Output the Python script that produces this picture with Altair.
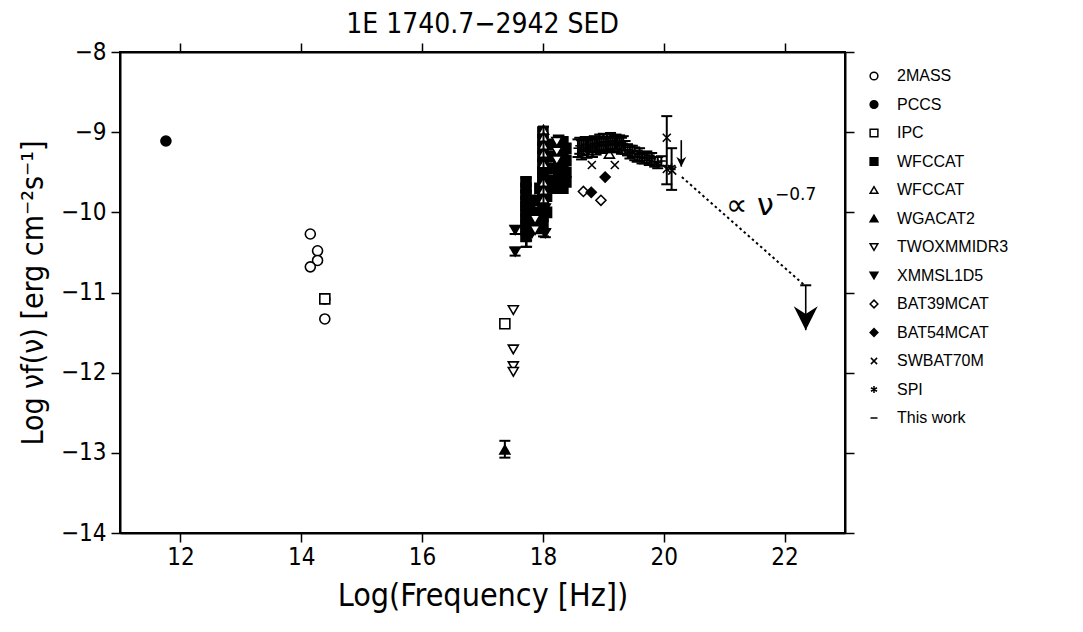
import altair as alt
import pandas as pd

# ---------------- data ----------------
mass_x = [14.15, 14.27, 14.27, 14.15, 14.39, 14.39]
mass_y = [-10.27, -10.48, -10.60, -10.68, -11.08, -11.33]
pccs_x = [11.76]
pccs_y = [-9.11]
ipc_x = [14.39, 17.37]
ipc_y = [-11.08, -11.39]
wfcsq_x = [17.72, 17.72, 17.72, 17.72, 17.72, 17.72, 17.72, 17.72, 17.72, 17.72,
           17.78, 17.78, 17.78, 17.78,
           17.95, 17.95, 17.95, 17.95, 17.95,
           18.00, 18.00, 18.00, 18.00, 18.00, 18.00, 18.00, 18.00, 18.00, 18.00, 18.00, 18.00, 18.00,
           18.06, 18.06, 18.06, 18.06, 18.06,
           18.18, 18.18, 18.18, 18.18, 18.18,
           18.26, 18.26, 18.26, 18.26, 18.26,
           18.33, 18.33, 18.33, 18.33, 18.33,
           18.38, 18.38, 18.38, 18.38]
wfcsq_y = [-9.62, -9.70, -9.78, -9.86, -9.93, -10.00, -10.08, -10.15, -10.22, -10.30,
           -9.85, -9.95, -10.05, -10.12,
           -9.70, -9.85, -10.00, -10.10, -10.20,
           -9.00, -9.10, -9.20, -9.30, -9.40, -9.50, -9.55, -9.65, -9.75, -9.85, -9.95, -10.05, -10.15,
           -9.30, -9.45, -9.60, -9.80, -10.00,
           -9.15, -9.30, -9.45, -9.60, -9.70,
           -9.10, -9.20, -9.35, -9.50, -9.65,
           -9.12, -9.25, -9.40, -9.55, -9.70,
           -9.20, -9.35, -9.50, -9.62]
xmm_x = [17.54, 17.54, 17.75, 17.82, 18.04, 18.04]
xmm_y = [-10.22, -10.49, -10.22, -10.26, -10.26, -9.95]
wfctri_x = [18.01, 18.01, 18.01, 18.01, 18.01, 18.01, 18.01, 18.01, 19.10]
wfctri_y = [-8.97, -9.06, -9.16, -9.26, -9.39, -9.62, -9.72, -9.83, -9.27]
wga_x = [17.37]
wga_y = [-12.96]
twox_x = [17.51, 17.51, 17.51, 17.51, 18.23, 18.23, 18.23, 17.87, 17.87]
twox_y = [-11.22, -11.71, -11.92, -11.99, -9.12, -9.24, -9.35, -10.09, -10.22]
bat39_x = [18.67, 18.96]
bat39_y = [-9.74, -9.85]
bat54_x = [18.80, 19.03]
bat54_y = [-9.75, -9.56]
swbat_x = [18.81, 19.19, 20.05, 20.05, 20.14]
swbat_y = [-9.41, -9.41, -9.07, -9.46, -9.48]
spi_x = [19.90, 20.13]
spi_y = [-9.39, -9.44]
tw_x = [18.58, 18.61, 18.64, 18.67, 18.70, 18.73, 18.76, 18.79, 18.82, 18.85, 18.88,
        18.91, 18.94, 18.97, 19.00, 19.03, 19.06, 19.09, 19.12, 19.15, 19.18, 19.21,
        19.24, 19.27, 19.30, 19.33, 19.36, 19.40, 19.44, 19.48, 19.52, 19.56, 19.60,
        19.64, 19.68, 19.72, 19.76, 19.80, 19.85, 19.90, 19.96]
tw_y = [-9.20, -9.17, -9.22, -9.19, -9.15, -9.21, -9.18, -9.16, -9.20, -9.14, -9.18,
        -9.15, -9.13, -9.17, -9.12, -9.16, -9.13, -9.15, -9.11, -9.16, -9.14, -9.12,
        -9.15, -9.13, -9.17, -9.14, -9.19, -9.22, -9.25, -9.24, -9.27, -9.30, -9.28,
        -9.32, -9.33, -9.31, -9.35, -9.33, -9.37, -9.38, -9.36]
tw_err = [0.11, 0.10, 0.12, 0.10, 0.09, 0.11, 0.10, 0.09, 0.11, 0.09, 0.10,
          0.09, 0.10, 0.09, 0.10, 0.09, 0.10, 0.09, 0.10, 0.09, 0.10, 0.09,
          0.10, 0.09, 0.10, 0.09, 0.08, 0.07, 0.08, 0.07, 0.08, 0.07, 0.08,
          0.07, 0.06, 0.07, 0.06, 0.07, 0.06, 0.07, 0.06]

# other error bars (x, low, high)
eb_x = [17.37, 17.72, 17.73, 18.01, 17.54, 17.54, 18.04, 20.05, 20.13]
eb_lo = [-13.06, -10.43, -10.43, -10.30, -10.27, -10.54, -10.31, -9.65, -9.72]
eb_hi = [-12.85, -9.57, -10.35, -8.93, -10.17, -10.44, -10.21, -8.80, -9.20]

# upper limits
ul_x = [20.29, 22.35]
ul_top = [-9.10, -10.91]
ul_tip = [-9.43, -11.47]
ul_head = [-9.37, -11.32]
ul_size = [100, 576]

# power-law extrapolation
pl_x = [20.30, 22.33]
pl_y = [-9.56, -10.91]

ann_text = ["\u221d \u03bd", "\u22120.7"]
ann_x = [21.03, 21.84]
ann_y = [-10.03, -9.85]
ann_size = [30, 17]

series_names = ["2MASS", "PCCS", "IPC", "WFCCAT", "WFCCAT_2", "WGACAT2", "TWOXMMIDR3",
                "XMMSL1D5", "BAT39MCAT", "BAT54MCAT", "SWBAT70M", "SPI", "This work"]

X_PATH = "M-0.8,-0.8L0.8,0.8M-0.8,0.8L0.8,-0.8"
AST_PATH = "M0,-0.9L0,0.9M-0.78,-0.45L0.78,0.45M-0.78,0.45L0.78,-0.45"
DASH_PATH = "M-0.9,0L0.9,0"
shapes = ["circle", "circle", "square", "square", "triangle-up", "triangle-up",
          "triangle-down", "triangle-down", "diamond", "diamond", X_PATH, AST_PATH, DASH_PATH]
fills = ["white", "black", "white", "black", "white", "black", "white", "black",
         "white", "black", "black", "black", "black"]
strokes = ["black"] * len(series_names)

# ---------------- tables ----------------
rows = []
def add(name, xs, ys):
    for a, b in zip(xs, ys):
        rows.append({"series": name, "x": a, "y": b})

add("2MASS", mass_x, mass_y)
add("PCCS", pccs_x, pccs_y)
add("IPC", ipc_x, ipc_y)
add("WFCCAT", wfcsq_x, wfcsq_y)
add("XMMSL1D5", xmm_x, xmm_y)
add("WFCCAT_2", wfctri_x, wfctri_y)
add("TWOXMMIDR3", twox_x, twox_y)
add("WGACAT2", wga_x, wga_y)
add("BAT39MCAT", bat39_x, bat39_y)
add("BAT54MCAT", bat54_x, bat54_y)
add("SWBAT70M", swbat_x, swbat_y)
add("SPI", spi_x, spi_y)
add("This work", tw_x, tw_y)
pts = pd.DataFrame(rows)

eb = pd.DataFrame({"x": eb_x + tw_x,
                   "lo": eb_lo + [b - e for b, e in zip(tw_y, tw_err)],
                   "hi": eb_hi + [b + e for b, e in zip(tw_y, tw_err)]})
caps = pd.DataFrame({"x": list(eb["x"]) + list(eb["x"]) + [ul_x[1]],
                     "y": list(eb["lo"]) + list(eb["hi"]) + [ul_top[1]]})
ul = pd.DataFrame({"x": ul_x, "top": ul_top, "tip": ul_tip, "head": ul_head, "s": ul_size})
pl = pd.DataFrame({"x": pl_x, "y": pl_y})
ann = pd.DataFrame({"t": ann_text, "x": ann_x, "y": ann_y, "s": ann_size})

XS = alt.Scale(domain=[11, 23], nice=False, zero=False)
YS = alt.Scale(domain=[-14, -8], nice=False, zero=False)
NARROW = "Liberation Sans Narrow, DejaVu Sans Condensed, Liberation Sans"

ax_common = dict(tickSize=9, tickWidth=1.5, tickColor="black", domainColor="black",
                 domainWidth=2, grid=False, labelColor="black", labelFont=NARROW,
                 labelFontSize=24, titleFont=NARROW,
                 titleFontWeight="normal", titleColor="black")

def X(field="x"):
    return alt.X(f"{field}:Q", scale=XS, axis=None)

def Y(field="y"):
    return alt.Y(f"{field}:Q", scale=YS, axis=None)

legend = alt.Legend(title=None, orient="none", legendX=746, legendY=16,
                    labelFont="Liberation Sans", labelFontSize=16, labelColor="black",
                    symbolSize=60, symbolStrokeColor="black", symbolStrokeWidth=1.5,
                    labelOffset=15, rowPadding=12.5, padding=0,
                    labelExpr="replace(datum.label, '_2', '')")

points = alt.Chart(pts).mark_point(filled=True, strokeWidth=1.6,
                                   opacity=1, size=100).encode(
    x=alt.X("x:Q", scale=XS, axis=alt.Axis(values=[12, 14, 16, 18, 20, 22], orient="bottom",
                                           title="Log(Frequency [Hz])", labelPadding=3,
                                           titlePadding=11, titleFontSize=32, **ax_common)),
    y=alt.Y("y:Q", scale=YS, axis=alt.Axis(values=[-14, -13, -12, -11, -10, -9, -8], orient="left",
                                           title="Log \u03bdf(\u03bd) [erg cm\u207b\u00b2s\u207b\u00b9]",
                                           labelPadding=5, titlePadding=12, titleFontSize=30,
                                           **ax_common)),
    shape=alt.Shape("series:N", scale=alt.Scale(domain=series_names, range=shapes), legend=legend),
    fill=alt.Fill("series:N", scale=alt.Scale(domain=series_names, range=fills), legend=legend),
    stroke=alt.Stroke("series:N", scale=alt.Scale(domain=series_names, range=strokes), legend=legend),
)

frame = alt.Chart(pl).mark_rule(opacity=0).encode(
    x=alt.X("x:Q", scale=XS, axis=alt.Axis(values=[12, 14, 16, 18, 20, 22], orient="top",
                                           labels=False, title=None, **ax_common)),
    y=alt.Y("y:Q", scale=YS, axis=alt.Axis(values=[-14, -13, -12, -11, -10, -9, -8], orient="right",
                                           labels=False, title=None, **ax_common)),
)

bars = alt.Chart(eb).mark_rule(color="black", strokeWidth=2).encode(
    x=X(), y=Y("lo"), y2="hi")
capm = alt.Chart(caps).mark_tick(orient="horizontal", color="black", size=11,
                                 thickness=2, opacity=1).encode(x=X(), y=Y())
shafts = alt.Chart(ul).mark_rule(color="black", strokeWidth=1.6).encode(
    x=X(), y=Y("top"), y2="tip")
heads = alt.Chart(ul).mark_point(shape="M0,1L-1,-1L0,-0.35L1,-1Z", filled=True,
                                 color="black", opacity=1).encode(
    x=X(), y=Y("head"), size=alt.Size("s:Q", scale=None, legend=None))
plline = alt.Chart(pl).mark_line(color="black", strokeWidth=2, strokeDash=[2.5, 3]).encode(
    x=X(), y=Y())
anno = alt.Chart(ann).mark_text(align="left", baseline="alphabetic", font="DejaVu Sans",
                                color="black").encode(
    x=X(), y=Y(), text="t:N", size=alt.Size("s:Q", scale=None, legend=None))

chart = alt.layer(points, frame, bars, capm, shafts, heads, plline, anno).resolve_axis(
    x="independent", y="independent"
).properties(
    width=725, height=481,
    title=alt.TitleParams("1E 1740.7\u22122942 SED", font=NARROW, fontSize=28,
                          fontWeight="normal", color="black", anchor="middle", offset=1),
    autosize=alt.AutoSizeParams(type="none"),
    padding={"left": 112, "top": 44, "right": 230, "bottom": 91},
).configure_view(stroke="black", strokeWidth=2)

chart.save("out.html", embed_options={"renderer": "svg", "actions": False})
